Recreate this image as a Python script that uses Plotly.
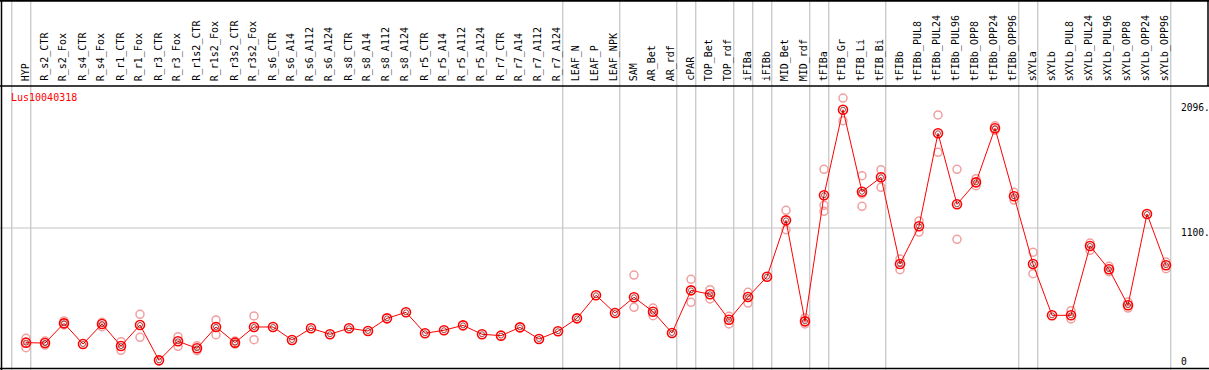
import plotly.graph_objects as go

categories = ["HYP", "R_s2_CTR", "R_s2_Fox", "R_s4_CTR", "R_s4_Fox", "R_r1_CTR", "R_r1_Fox",
              "R_r3_CTR", "R_r3_Fox", "R_r1s2_CTR", "R_r1s2_Fox", "R_r3s2_CTR", "R_r3s2_Fox",
              "R_s6_CTR", "R_s6_A14", "R_s6_A112", "R_s6_A124", "R_s8_CTR", "R_s8_A14",
              "R_s8_A112", "R_s8_A124", "R_r5_CTR", "R_r5_A14", "R_r5_A112", "R_r5_A124",
              "R_r7_CTR", "R_r7_A14", "R_r7_A112", "R_r7_A124", "LEAF_N", "LEAF_P", "LEAF_NPK",
              "SAM", "AR_Bet", "AR_rdf", "cPAR", "TOP_Bet", "TOP_rdf", "iFIBa", "iFIBb",
              "MID_Bet", "MID_rdf", "tFIBa", "tFIB_Gr", "tFIB_Li", "tFIB_Bi", "tFIBb",
              "tFIBb_PUL8", "tFIBb_PUL24", "tFIBb_PUL96", "tFIBb_OPP8", "tFIBb_OPP24",
              "tFIBb_OPP96", "sXYLa", "sXYLb", "sXYLb_PUL8", "sXYLb_PUL24", "sXYLb_PUL96",
              "sXYLb_OPP8", "sXYLb_OPP24", "sXYLb_OPP96"]

mean_values = [186, 183, 340, 175, 335, 159, 327, 45, 197, 141, 311, 186, 311,
               311, 207, 301, 253, 301, 279, 380, 428, 261, 285, 324, 253,
               242, 308, 215, 277, 380, 564, 422,
               548, 433, 263, 603, 572, 369, 550, 712,
               1161, 356, 1361, 2043, 1389, 1504, 813,
               1114, 1855, 1289, 1464, 1895, 1353,
               813, 404, 404, 957, 771, 484, 1212, 803]

rep_1 = [221, 199, 359, None, 348, 194, 412, None, 234, 162, 367, 199, 399,
         None, None, None, None, None, None, None, None, None, None, None, None,
         None, None, None, None, None, None, None,
         725, 462, None, 691, 608, 396, 587, None,
         1241, 383, 1568, 2136, 1517, 1565, 853,
         1156, 2001, 1568, 1493, 1915, 1385,
         906, None, 441, 980, 795, 510, None, 829]

rep_2 = [146, 167, 327, None, 313, 125, 229, None, 157, 122, 249, 175, 210,
         None, None, None, None, None, None, None, None, None, None, None, None,
         None, None, None, None, None, None, None,
         468, 401, None, 508, 534, 335, 502, None,
         1086, 335, 1281, 1955, 1371, 1424, 768,
         1068, 1703, 1010, 1437, 1879, 1323,
         736, None, 375, 922, 752, 462, None, 776]

rep_3 = [None] * 42 + [1233, None, 1273] + [None] * 16

group_sizes = [1, 28, 3, 3, 1, 2, 1, 1, 2, 1, 3, 7, 1, 7]

gene_label = "Lus10040318"
y_tick_values = [2096, 1100, 0]
y_tick_labels = ["2096.", "1100.", "0"]

W, H = 1209, 370
HEADER = 86
x_px0, x_step = 26, 19
x_min = -x_px0 / x_step
x_max = x_min + W / x_step
scale = 0.12545
zero_px = 366
plot_h = H - HEADER
y_min = -(H - zero_px) / scale
y_max = y_min + plot_h / scale

idx = list(range(len(categories)))
fig = go.Figure()

rep_marker = dict(symbol="circle-open", size=8, color="#f0a0a0", line=dict(width=1.5, color="#f0a0a0"))
for reps in (rep_1, rep_2, rep_3):
    fig.add_trace(go.Scatter(x=idx, y=reps, mode="markers", marker=rep_marker,
                             hoverinfo="skip", showlegend=False))

fig.add_trace(go.Scatter(x=idx, y=mean_values, mode="lines", line=dict(color="red", width=1),
                         showlegend=False, hoverinfo="skip"))
fig.add_trace(go.Scatter(x=idx, y=mean_values, mode="markers",
                         marker=dict(symbol="circle-open", size=9, color="red",
                                     line=dict(width=1.6, color="red")),
                         showlegend=False, customdata=categories,
                         hovertemplate="%{customdata}: %{y}<extra></extra>"))
fig.add_trace(go.Scatter(x=idx, y=mean_values, mode="markers",
                         marker=dict(symbol="circle-open", size=5, color="#700000",
                                     line=dict(width=0.7, color="#700000")),
                         showlegend=False, hoverinfo="skip"))

shapes = []
seps = [-0.75]
acc = 0
for g in group_sizes:
    acc += g
    seps.append(acc - 1 + 0.25)
for s in seps:
    shapes.append(dict(type="line", xref="x", yref="paper", x0=s, x1=s, y0=0, y1=1,
                       line=dict(color="#c4c4c4", width=1.2), layer="below"))
right_edge = seps[-1]
shapes.append(dict(type="line", xref="x", yref="y", x0=x_min, x1=right_edge,
                   y0=y_tick_values[1], y1=y_tick_values[1],
                   line=dict(color="#c4c4c4", width=1.2), layer="below"))
hdr = 1 - HEADER / H
shapes += [
    dict(type="line", xref="paper", yref="paper", x0=0, x1=1, y0=1 - 0.8 / H, y1=1 - 0.8 / H, line=dict(color="black", width=2)),
    dict(type="line", xref="paper", yref="paper", x0=0, x1=1, y0=hdr, y1=hdr, line=dict(color="black", width=1.5)),
    dict(type="line", xref="paper", yref="paper", x0=1.5 / W, x1=1.5 / W, y0=0, y1=1, line=dict(color="black", width=1.5)),
    dict(type="line", xref="paper", yref="paper", x0=0, x1=1, y0=1.5 / H, y1=1.5 / H, line=dict(color="black", width=1.5)),
    dict(type="line", xref="paper", yref="paper", x0=1 - 1 / W, x1=1 - 1 / W, y0=hdr, y1=1, line=dict(color="black", width=1.5)),
]

annotations = []
for i, c in enumerate(categories):
    annotations.append(dict(x=i - 0.04, y=hdr + 3 / H, xref="x", yref="paper", text=c, textangle=-90,
                            showarrow=False, xanchor="center", yanchor="bottom",
                            font=dict(family="DejaVu Sans Mono", size=10, color="black")))
label_shifts = [-4.6, -4.6, 4.3]
for v, t, sh in zip(y_tick_values, y_tick_labels, label_shifts):
    annotations.append(dict(x=1179 / W, y=v, xref="paper", yref="y", text=t, showarrow=False,
                            xanchor="left", yanchor="middle", yshift=sh,
                            font=dict(family="DejaVu Sans Mono", size=9.6, color="black")))
annotations.append(dict(x=9 / W, y=1 - 97.5 / H, xref="paper", yref="paper", text=gene_label,
                        showarrow=False, xanchor="left", yanchor="middle",
                        font=dict(family="DejaVu Sans Mono", size=10, color="red")))

fig.update_layout(
    width=W, height=H, margin=dict(l=0, r=0, t=0, b=0),
    paper_bgcolor="white", plot_bgcolor="white",
    xaxis=dict(range=[x_min, x_max], showgrid=False, zeroline=False, showticklabels=False,
               ticks="", fixedrange=True),
    yaxis=dict(range=[y_min, y_max], domain=[0, hdr], showgrid=False, zeroline=False,
               showticklabels=False, ticks="", fixedrange=True),
    shapes=shapes, annotations=annotations, showlegend=False,
)

fig.write_html("out.html", config={"displayModeBar": False},
               post_script="document.body.style.margin='0px';document.body.style.padding='0px';")
